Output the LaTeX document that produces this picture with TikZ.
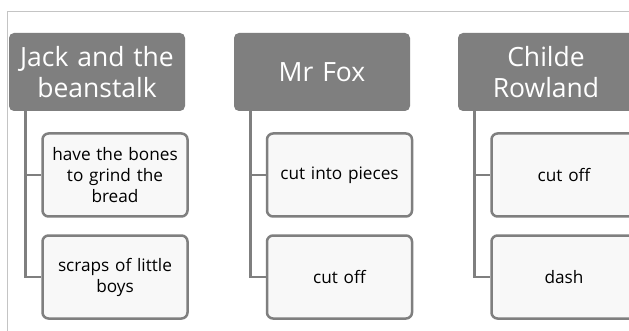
\documentclass[tikz,border=0pt]{standalone}
\usepackage{fontspec}
\setmainfont{Open Sans}
\definecolor{hdr}{HTML}{7F7F7F}
\definecolor{cfill}{HTML}{F8F8F8}
\definecolor{frame}{HTML}{C4C4C4}
\tikzset{
  hdrbox/.style={draw=none, fill=hdr, rounded corners=5pt, minimum width=176pt, minimum height=78pt,
    text width=172pt, align=center, text=white, font=\fontsize{26.5}{31}\selectfont, inner sep=0pt},
  childbox/.style={draw=hdr, line width=2.5pt, fill=cfill, rounded corners=6pt, minimum width=145pt, minimum height=83pt,
    text width=140pt, align=center, text=black, font=\fontsize{17.2}{21}\selectfont, inner sep=0pt},
  conn/.style={draw=hdr, line width=2.8pt}
}
\begin{document}
\begin{tikzpicture}[x=1pt,y=-1pt]
\useasboundingbox (0,0) rectangle (629,331);
\clip (0,0) rectangle (629,331);
\fill[white] (0,0) rectangle (629,331);
\draw[frame, line width=1pt] (7,331) -- (7,12) -- (629,12);
% headers
\node[hdrbox] (h1) at (97,72) {Jack and the\\beanstalk};
\node[hdrbox] (h2) at (322,72) {Mr Fox};
\node[hdrbox] (h3) at (546,72) {Childe\\Rowland};
% children
\node[childbox] (c11) at (115,175) {have the bones\\to grind the\\bread};
\node[childbox] (c12) at (115,277) {scraps of little\\boys};
\node[childbox] (c21) at (339.5,175) {cut into pieces};
\node[childbox] (c22) at (339.5,277) {cut off};
\node[childbox] (c31) at (564,175) {cut off};
\node[childbox] (c32) at (564,277) {dash};
% connectors
\foreach \h/\a/\b in {h1/c11/c12, h2/c21/c22, h3/c31/c32}{
  \draw[conn] ([xshift=17pt]\h.south west) |- (\b.west);
  \draw[conn] ([xshift=17pt]\h.south west) |- (\a.west);
}
\end{tikzpicture}
\end{document}
